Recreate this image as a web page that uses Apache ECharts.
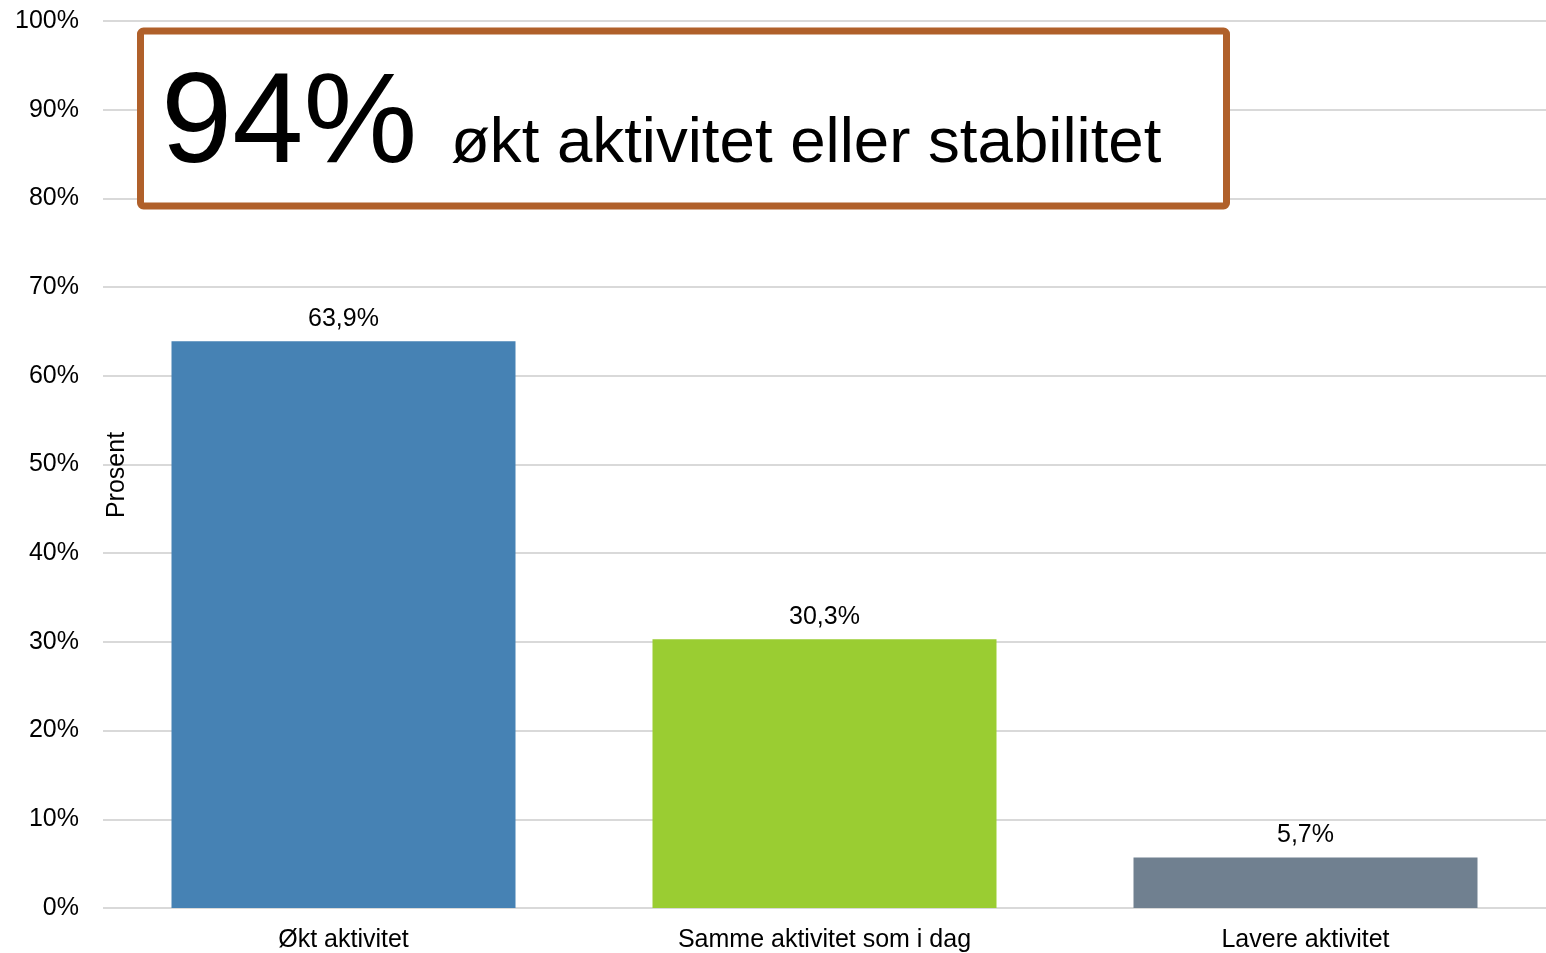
<!DOCTYPE html>
<html>
<head>
<meta charset="utf-8">
<script src="https://cdn.jsdelivr.net/npm/echarts@6/dist/echarts.min.js"></script>
<style>
  html, body { margin: 0; padding: 0; background: #fff; }
  #chart { width: 1546px; height: 953px; }
</style>
</head>
<body>
<div id="chart"></div>
<script>
// data
var categories = ["Økt aktivitet", "Samme aktivitet som i dag", "Lavere aktivitet"];
var values = [63.9, 30.3, 5.7];
var barColors = ["#4682B4", "#9ACD32", "#708090"];
var yTicks = [0, 10, 20, 30, 40, 50, 60, 70, 80, 90, 100];
var yTitle = "Prosent";
var calloutNumber = "94%";
var calloutText = "økt aktivitet eller stabilitet";

var chart = echarts.init(document.getElementById("chart"));

var option = {
  animation: false,
  textStyle: { fontFamily: "Liberation Sans, Arial, sans-serif", color: "#000" },
  grid: { left: 103, right: 0, top: 21, bottom: 45, containLabel: false, outerBoundsMode: "none" },
  xAxis: {
    type: "category",
    data: categories,
    axisLine: { show: false },
    axisTick: { show: false },
    axisLabel: { color: "#000", fontSize: 25, margin: 20 }
  },
  yAxis: {
    type: "value",
    min: yTicks[0],
    max: yTicks[yTicks.length - 1],
    interval: 10,
    axisLine: { show: false },
    axisTick: { show: false },
    axisLabel: {
      color: "#000",
      fontSize: 25,
      margin: 24,
      formatter: function (v) { return v + "%"; }
    },
    splitLine: { lineStyle: { color: "#d9d9d9", width: 2 } }
  },
  series: [
    {
      type: "bar",
      barWidth: 344,
      data: values.map(function (v, i) {
        return { value: v, itemStyle: { color: barColors[i] } };
      }),
      label: {
        show: true,
        position: "top",
        distance: 10,
        color: "#000",
        fontSize: 25,
        formatter: function (p) { return p.value.toFixed(1).replace(".", ",") + "%"; }
      }
    }
  ],
  graphic: [
    {
      // y axis title, sits inside the plot area
      type: "text",
      z: 50,
      x: 117,
      y: 475,
      rotation: Math.PI / 2,
      style: {
        text: yTitle,
        fontSize: 25,
        fontFamily: "Liberation Sans, Arial, sans-serif",
        fill: "#000",
        align: "center",
        verticalAlign: "middle"
      }
    },
    {
      type: "rect",
      z: 100,
      shape: { x: 140.5, y: 31, width: 1086, height: 175, r: 3 },
      style: { fill: "#fff", stroke: "#B0602A", lineWidth: 7 }
    },
    {
      type: "text",
      z: 101,
      left: 161,
      top: 63,
      style: {
        text: calloutNumber,
        fontSize: 128,
        fontFamily: "Liberation Sans, Arial, sans-serif",
        fill: "#000"
      }
    },
    {
      type: "text",
      z: 101,
      left: 451,
      top: 112,
      style: {
        text: calloutText,
        fontSize: 63.6,
        fontFamily: "Liberation Sans, Arial, sans-serif",
        fill: "#000"
      }
    }
  ]
};

chart.setOption(option);
</script>
</body>
</html>
